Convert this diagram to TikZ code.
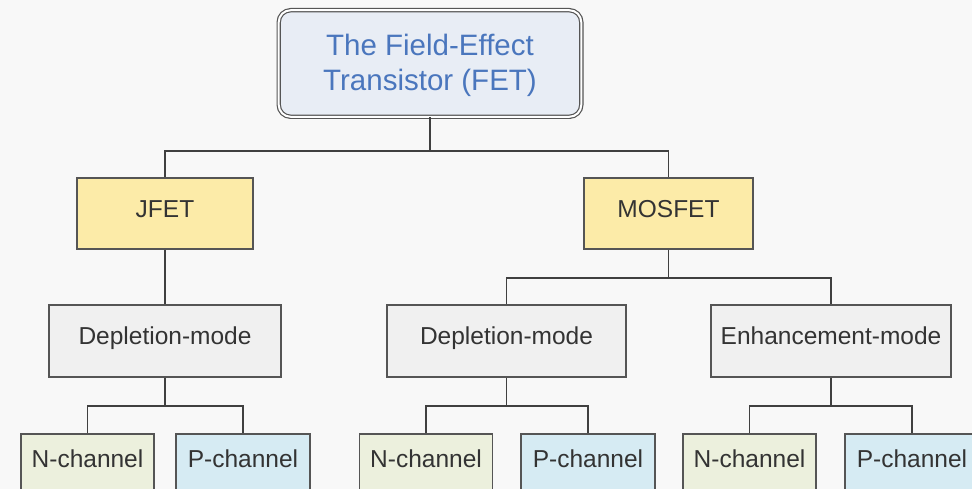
\documentclass[tikz,border=0pt]{standalone}
\usepackage{fontspec}
\setmainfont{Liberation Sans}
\usetikzlibrary{calc}
\definecolor{bgc}{HTML}{F8F8F8}
\definecolor{topfill}{HTML}{E8EDF5}
\definecolor{topblue}{HTML}{4A76BD}
\definecolor{yel}{HTML}{FCEBA8}
\definecolor{grayfill}{HTML}{F0F0F0}
\definecolor{grn}{HTML}{ECF0DD}
\definecolor{blu}{HTML}{D6EBF3}
\definecolor{txt}{HTML}{333333}
\definecolor{brd}{HTML}{555555}
\definecolor{lnc}{HTML}{404040}
\begin{document}
\begin{tikzpicture}[x=1pt,y=-1pt,
  base/.style={draw=brd, line width=1.6pt, text=txt, inner sep=0pt,
     font=\fontsize{24.5}{29}\selectfont, text height=0.716em, text depth=0pt},
  topbox/.style={draw=brd, line width=1.2pt, double=white, double distance=2pt,
     rounded corners=12pt, fill=topfill, minimum width=302.6pt, minimum height=106.6pt,
     inner sep=0pt},
  toptext/.style={text=topblue, align=center, font=\fontsize{29.5}{35}\selectfont, inner sep=0pt},
  fetbox/.style={base, fill=yel, minimum height=71pt},
  modebox/.style={base, fill=grayfill, minimum height=72pt},
  nbox/.style={base, fill=grn, minimum width=133pt, text height=34pt, text depth=30pt, anchor=north},
  pbox/.style={base, fill=blu, minimum width=134pt, text height=34pt, text depth=30pt, anchor=north},
  conn/.style={draw=lnc, line width=1.6pt}
]
\useasboundingbox (0,0) rectangle (972,489);
\fill[bgc] (0,0) rectangle (972,489);
\clip (0,0) rectangle (972,489);

\node[topbox] (fet) at (430,63.5) {};
\node[toptext] (fettext) at (430,65) {The Field-Effect\\Transistor (FET)};

\node[fetbox, minimum width=176pt] (jfet) at (165,213.5) {JFET};
\node[fetbox, minimum width=169pt] (mosfet) at (668.5,213.5) {MOSFET};

\node[modebox, minimum width=232pt] (depl) at (165,341) {Depletion-mode};
\node[modebox, minimum width=239pt] (depm) at (506.5,341) {Depletion-mode};
\node[modebox, minimum width=240pt] (enh) at (831,341) {Enhancement-mode};

\node[nbox] (n1) at (87.5,433) {N-channel};
\node[pbox] (p1) at (243,433) {P-channel};
\node[nbox] (n2) at (426,433) {N-channel};
\node[pbox] (p2) at (588,433) {P-channel};
\node[nbox] (n3) at (749.5,433) {N-channel};
\node[pbox] (p3) at (912,433) {P-channel};

\draw[conn] (fet.south) -- ($(fet.south |- jfet.north)+(0,-26)$);
\draw[conn] (jfet.north) -- ++(0,-26) -| (mosfet.north);
\draw[conn] (jfet.south) -- (depl.north);
\draw[conn] (mosfet.south) -- ($(mosfet.south |- depm.north)+(0,-26)$);
\draw[conn] (depm.north) -- ++(0,-26) -| (enh.north);
\draw[conn] (depl.south) -- ($(depl.south |- n1.north)+(0,-27)$);
\draw[conn] (n1.north) -- ++(0,-27) -| (p1.north);
\draw[conn] (depm.south) -- ($(depm.south |- n2.north)+(0,-27)$);
\draw[conn] (n2.north) -- ++(0,-27) -| (p2.north);
\draw[conn] (enh.south) -- ($(enh.south |- n3.north)+(0,-27)$);
\draw[conn] (n3.north) -- ++(0,-27) -| (p3.north);
\end{tikzpicture}
\end{document}
